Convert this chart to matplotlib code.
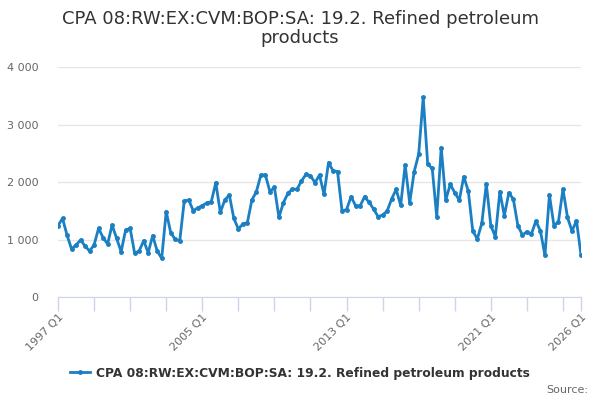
import numpy as np
import matplotlib
matplotlib.use("Agg")
import matplotlib.pyplot as plt

# Serie trimestral 1997 Q1 - 2026 Q1
values = [
    1240, 1368, 1078, 835, 904, 991, 887, 800, 904, 1194,
    1032, 922, 1252, 1020, 788, 1165, 1194, 759, 800, 980,
    771, 1067, 800, 672, 1484, 1119, 1003, 974, 1670, 1687,
    1500, 1550, 1590, 1635, 1658, 1988, 1472, 1687, 1774, 1368,
    1183, 1270, 1293, 1687, 1832, 2122, 2122, 1832, 1907, 1386,
    1641, 1803, 1878, 1872, 2017, 2133, 2110, 1988, 2122, 1786,
    2336, 2197, 2180, 1496, 1520, 1745, 1588, 1583, 1745, 1646,
    1530, 1397, 1426, 1496, 1704, 1872, 1594, 2296, 1635, 2180,
    2487, 3472, 2307, 2238, 1397, 2597, 1687, 1959, 1814, 1684,
    2093, 1843, 1148, 1009, 1281, 1965, 1241, 1049, 1832, 1414,
    1814, 1699, 1241, 1078, 1136, 1096, 1322, 1148, 725, 1774,
    1241, 1310, 1878, 1386, 1148, 1327, 730,
]
quarters = [f"{1997 + i // 4} Q{i % 4 + 1}" for i in range(len(values))]
label_quarters = ["1997 Q1", "2005 Q1", "2013 Q1", "2021 Q1", "2026 Q1"]
y_ticks = [0, 1000, 2000, 3000, 4000]

title = "CPA 08:RW:EX:CVM:BOP:SA: 19.2. Refined petroleum\nproducts"
series_name = "CPA 08:RW:EX:CVM:BOP:SA: 19.2. Refined petroleum products"

line_color = "#1a7fc3"
axis_color = "#ccd6eb"

fig = plt.figure(figsize=(6, 4), dpi=100)
ax = fig.add_axes([58 / 600, 1 - 297 / 400, 523 / 600, 230 / 400])

x = np.arange(len(values))
ax.plot(x, values, color=line_color, linewidth=2, marker="o", markersize=2.5,
        label=series_name, zorder=3)

ax.set_xlim(0, len(values) - 1)
ax.set_ylim(0, 4000)

# Ejes y rejilla
for side in ["top", "right", "left"]:
    ax.spines[side].set_visible(False)
ax.spines["bottom"].set_color(axis_color)
ax.set_yticks(y_ticks)
ax.set_yticklabels([f"{v:,}".replace(",", " ") for v in y_ticks])
ax.yaxis.grid(True, color="#e6e6e6", linewidth=1)
ax.set_axisbelow(True)
ax.tick_params(axis="y", length=0, labelsize=8, labelcolor="#666666", pad=14)

tick_pos = list(range(0, len(values), 8)) + [len(values) - 1]
ax.set_xticks(tick_pos)
ax.set_xticklabels([q if q in label_quarters else "" for q in
                    [quarters[p] for p in tick_pos]],
                   rotation=45, ha="right", rotation_mode="anchor")
ax.tick_params(axis="x", length=10, color=axis_color, width=1,
               labelsize=8, labelcolor="#666666", pad=1)

fig.text(0.5, 0.975, title, ha="center", va="top", fontsize=13,
         color="#333333", linespacing=1.1)

leg = fig.legend(loc="center", bbox_to_anchor=(0.5, 1 - 373 / 400),
                 frameon=False, handlelength=1.6, handletextpad=0.5,
                 prop={"size": 8.8, "weight": "bold"})
for t in leg.get_texts():
    t.set_color("#333333")

fig.text(588 / 600, 1 - 390 / 400, "Source:", ha="right", va="center",
         fontsize=8, color="#666666")

fig.savefig("out.png", dpi=100)
